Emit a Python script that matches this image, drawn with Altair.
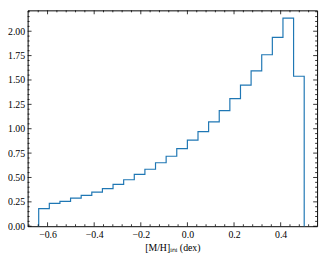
import altair as alt
import numpy as np
import pandas as pd

# Histogram (step) data
bin_start = -0.638
bin_width = 0.04556
heights = [0.180, 0.235, 0.255, 0.289, 0.316, 0.349, 0.386, 0.430, 0.477, 0.531,
           0.584, 0.651, 0.718, 0.796, 0.883, 0.970, 1.071, 1.185, 1.309, 1.447,
           1.594, 1.759, 1.937, 2.135, 1.538]

# Tick positions
x_major = [-0.6, -0.4, -0.2, 0.0, 0.2, 0.4]
x_minor_all = [round(-0.68 + 0.04 * k, 2) for k in range(32)]
y_major = [0.0, 0.25, 0.5, 0.75, 1.0, 1.25, 1.5, 1.75, 2.0]
y_minor_all = [round(0.05 * k, 2) for k in range(45)]

x_domain = [-0.6855, 0.5563]
y_domain = [0.0, 2.214]

W, H = 295, 220
FONT = "Liberation Serif"

edges = [bin_start + bin_width * i for i in range(len(heights) + 1)]
px, py = [edges[0]], [0.0]
for i, h in enumerate(heights):
    px += [edges[i], edges[i + 1]]
    py += [h, h]
px.append(edges[-1])
py.append(0.0)
step_df = pd.DataFrame({"x": px, "y": py, "o": list(range(len(px)))})

x_minor = [v for v in x_minor_all if all(abs(v - m) > 1e-6 for m in x_major)
           and x_domain[0] <= v <= x_domain[1]]
y_minor = [v for v in y_minor_all if all(abs(v - m) > 1e-6 for m in y_major)
           and y_domain[0] <= v <= y_domain[1]]

xs = alt.Scale(domain=x_domain, nice=False, zero=False)
ys = alt.Scale(domain=y_domain, nice=False, zero=False)

line = alt.Chart(step_df).mark_line(color="#1f77b4", strokeWidth=1.2).encode(
    x=alt.X("x:Q", scale=xs, axis=alt.Axis(
        values=x_major, format=".1f", ticks=False, domain=False, grid=False,
        labelFont=FONT, labelFontSize=10, labelColor="black", labelPadding=4,
        title="[M/H]ᵢₙᵢ (dex)", titleFont=FONT, titleFontSize=10,
        titleFontWeight="normal", titleColor="black", titlePadding=3)),
    y=alt.Y("y:Q", scale=ys, axis=alt.Axis(
        values=y_major, format=".2f", ticks=False, domain=False, grid=False,
        labelFont=FONT, labelFontSize=10, labelColor="black", labelPadding=3,
        title="")),
    order="o:Q",
)

def xticks(vals, length):
    d = pd.DataFrame({"v": vals})
    bot = alt.Chart(d).mark_rule(color="black", strokeWidth=0.8).encode(
        x=alt.X("v:Q", scale=xs, axis=None), y=alt.value(H), y2=alt.value(H - length))
    top = alt.Chart(d).mark_rule(color="black", strokeWidth=0.8).encode(
        x=alt.X("v:Q", scale=xs, axis=None), y=alt.value(0), y2=alt.value(length))
    return [bot, top]

def yticks(vals, length):
    d = pd.DataFrame({"v": vals})
    left = alt.Chart(d).mark_rule(color="black", strokeWidth=0.8).encode(
        y=alt.Y("v:Q", scale=ys, axis=None), x=alt.value(0), x2=alt.value(length))
    right = alt.Chart(d).mark_rule(color="black", strokeWidth=0.8).encode(
        y=alt.Y("v:Q", scale=ys, axis=None), x=alt.value(W), x2=alt.value(W - length))
    return [left, right]

layers = [line] + xticks(x_major, 4) + xticks(x_minor, 2) + yticks(y_major, 4) + yticks(y_minor, 2)

chart = alt.layer(*layers).resolve_axis(x="independent", y="independent").properties(
    width=W, height=H,
    autosize=alt.AutoSizeParams(type="none"),
    padding={"left": 20, "top": 0, "right": 5, "bottom": 31},
).configure_view(stroke="black", strokeWidth=1)

chart.save("out.html", embed_options={"renderer": "svg", "actions": False})
